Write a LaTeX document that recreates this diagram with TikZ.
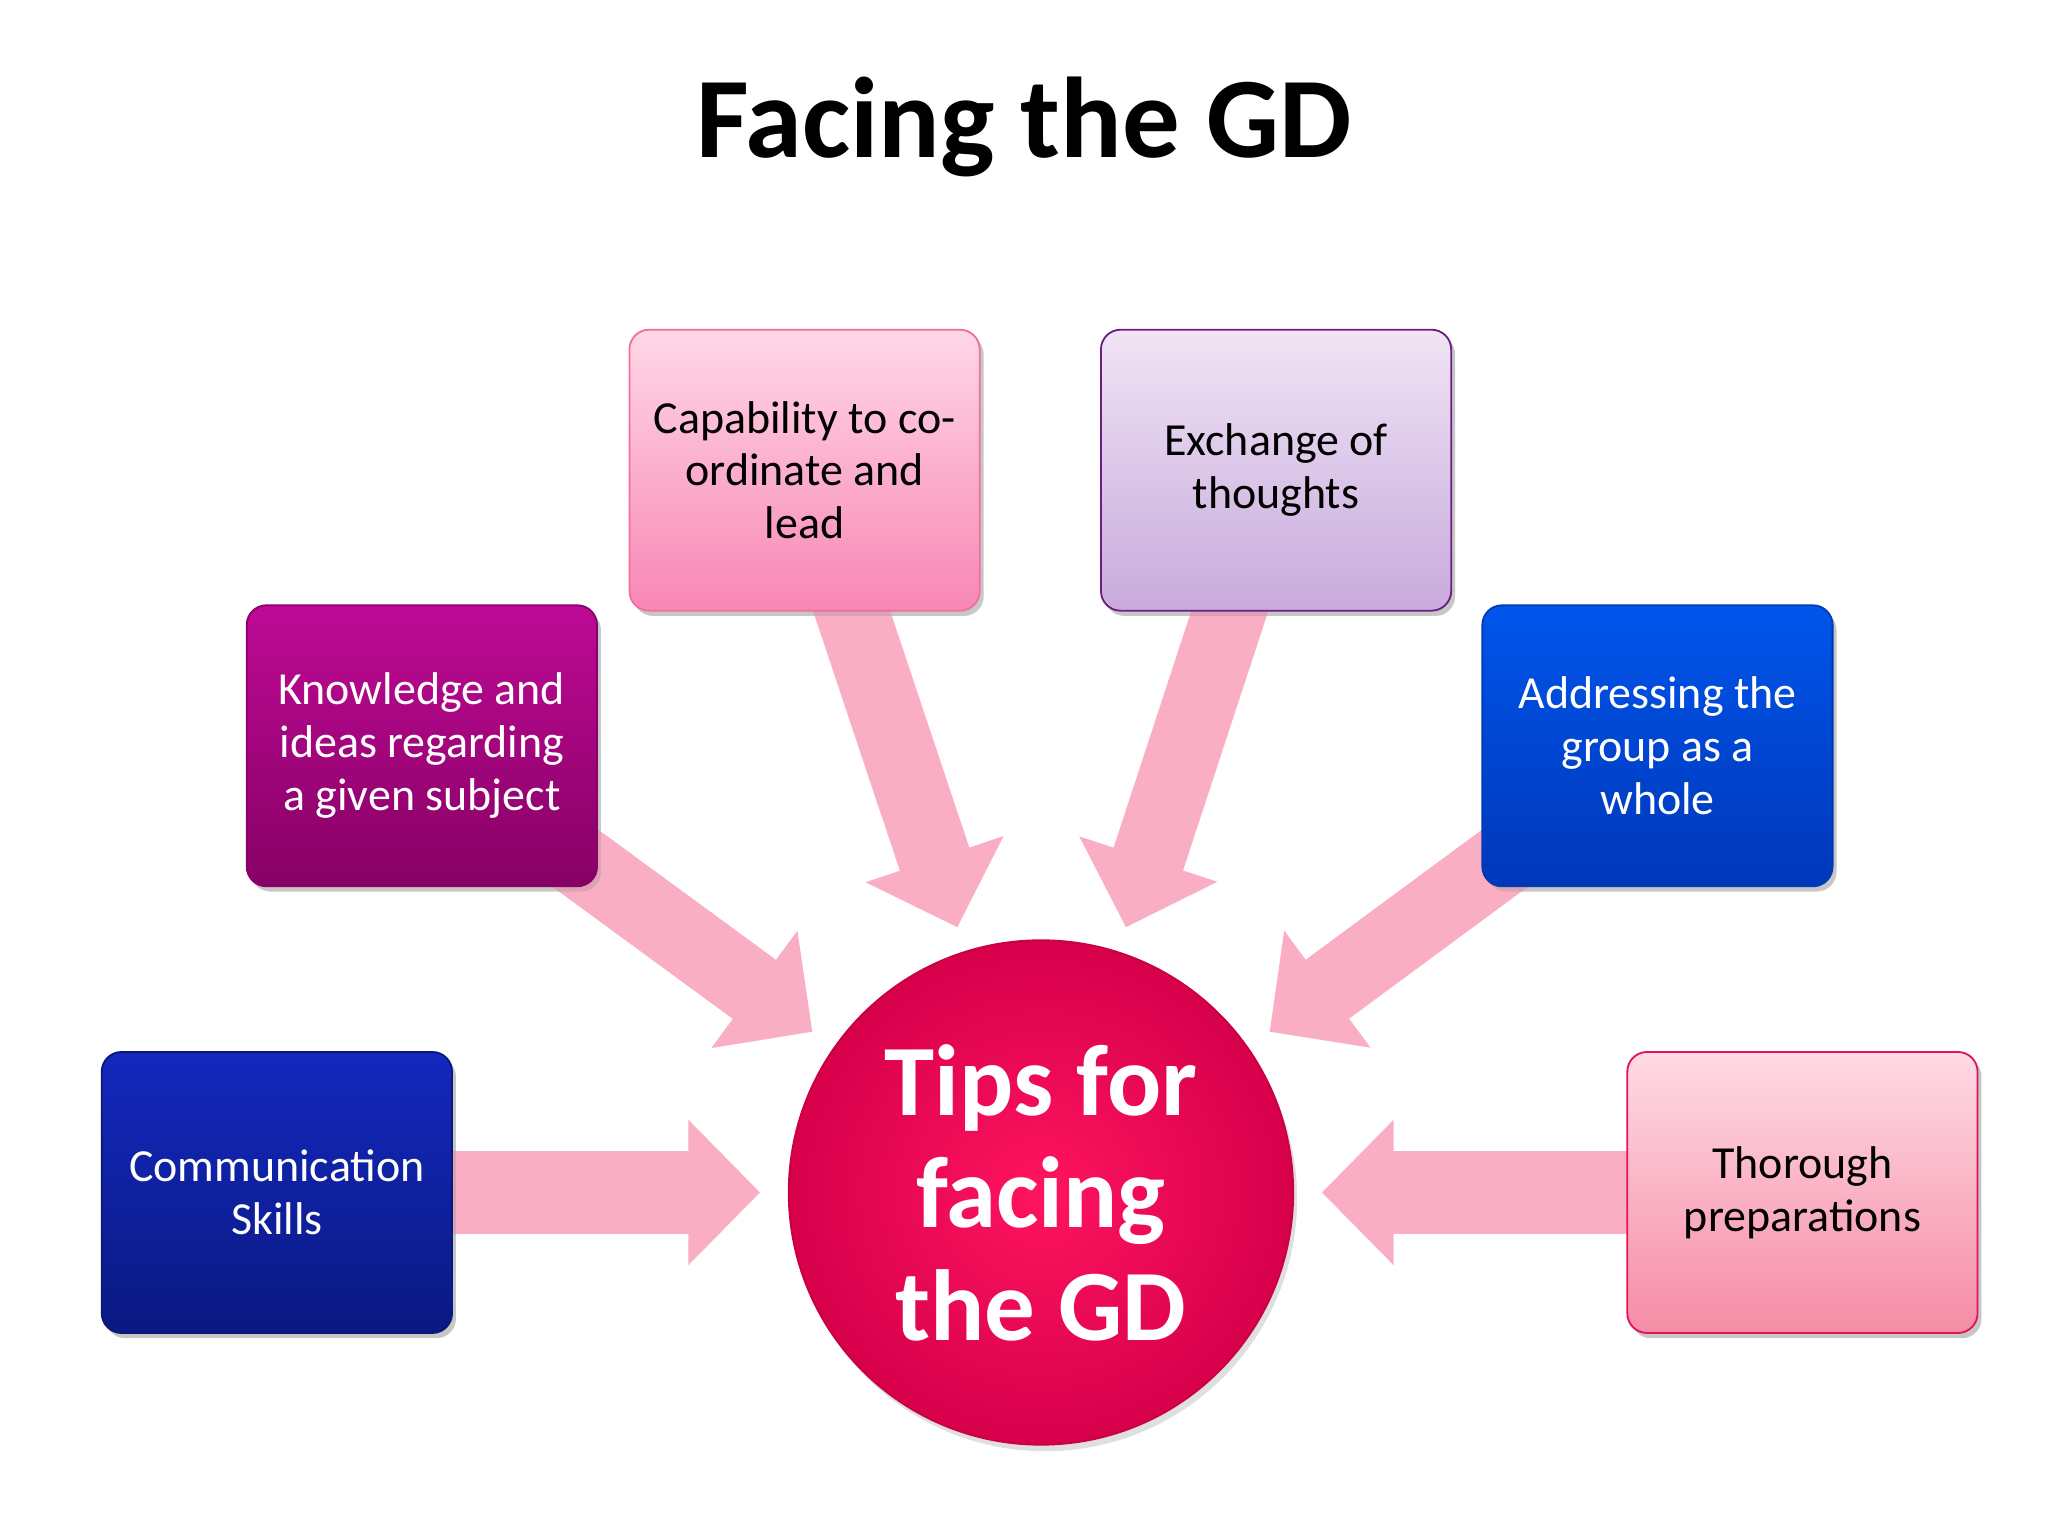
\documentclass[tikz,border=0pt]{standalone}
\usepackage{fontspec}
\setmainfont{Carlito}
\usetikzlibrary{arrows.meta,shadows}
\begin{document}
\begin{tikzpicture}[x=0.01cm,y=-0.01cm,
 box/.style={rounded corners=0.15cm,minimum width=2.68cm,minimum height=2.15cm,inner sep=0pt,align=center,font=\fontsize{10}{11.5}\selectfont,drop shadow={opacity=0.25,shadow xshift=0.03cm,shadow yshift=-0.04cm}},
 arr/.style={draw=arrowpink,line width=#1,-{Triangle[length=0.55cm,width=1.08cm]}},
 arr/.default=0.6cm]
\definecolor{arrowpink}{HTML}{F9AEC4}
\useasboundingbox (0,0) rectangle (1568,1176);
\node[font=\fontsize{25}{28}\selectfont\bfseries] (title) at (784,97) {Facing the GD};
\coordinate (c) at (797,913);
\coordinate (lt) at (582,913); \coordinate (rt) at (1012,913);
\coordinate (kt) at (622,790); \coordinate (ct) at (733,710);
\coordinate (et) at (862,710); \coordinate (at) at (972,790);
\node[box] (comm) at (212,913) {};
\node[box] (thor) at (1380,913) {};
\node[box] (know) at (323,571) {};
\node[box] (cap) at (616,360) {};
\node[box] (exch) at (977,360) {};
\node[box] (addr) at (1269,571) {};
\draw[arr=0.64cm] (comm.center) -- (lt);
\draw[arr=0.64cm] (thor.center) -- (rt);
\draw[arr=0.56cm] (know.center) -- (kt);
\draw[arr=0.56cm] (cap.center) -- (ct);
\draw[arr=0.56cm] (exch.center) -- (et);
\draw[arr=0.56cm] (addr.center) -- (at);
\node[box,top color={rgb,255:red,20;green,40;blue,190},bottom color={rgb,255:red,10;green,25;blue,130},draw={rgb,255:red,10;green,25;blue,120},text=white] at (212,913) {Communication\\Skills};
\node[box,top color={rgb,255:red,255;green,218;blue,228},bottom color={rgb,255:red,245;green,140;blue,165},draw={rgb,255:red,225;green,20;blue,90},text=black] at (1380,913) {Thorough\\preparations};
\node[box,top color={rgb,255:red,190;green,10;blue,150},bottom color={rgb,255:red,135;green,0;blue,100},draw={rgb,255:red,140;green,0;blue,110},text=white] at (323,571) {Knowledge and\\ideas regarding\\a given subject};
\node[box,top color={rgb,255:red,255;green,215;blue,230},bottom color={rgb,255:red,248;green,135;blue,180},draw={rgb,255:red,240;green,110;blue,160},text=black] at (616,360) {Capability to co-\\ordinate and\\lead};
\node[box,top color={rgb,255:red,240;green,228;blue,245},bottom color={rgb,255:red,200;green,170;blue,220},draw={rgb,255:red,110;green,30;blue,130},text=black] at (977,360) {Exchange of\\thoughts};
\node[box,top color={rgb,255:red,0;green,85;blue,235},bottom color={rgb,255:red,0;green,55;blue,185},draw={rgb,255:red,0;green,60;blue,180},text=white] at (1269,571) {Addressing the\\group as a\\whole};
\node[circle,minimum size=3.86cm,inner sep=0pt,inner color={rgb,255:red,255;green,20;blue,95},outer color={rgb,255:red,215;green,0;blue,75},draw={rgb,255:red,200;green,0;blue,70},text=white,font=\fontsize{22}{24.5}\selectfont\bfseries,align=center,drop shadow={opacity=0.25,shadow xshift=0.03cm,shadow yshift=-0.05cm}] (hub) at (c) {Tips for\\facing\\the GD};
\end{tikzpicture}
\end{document}
